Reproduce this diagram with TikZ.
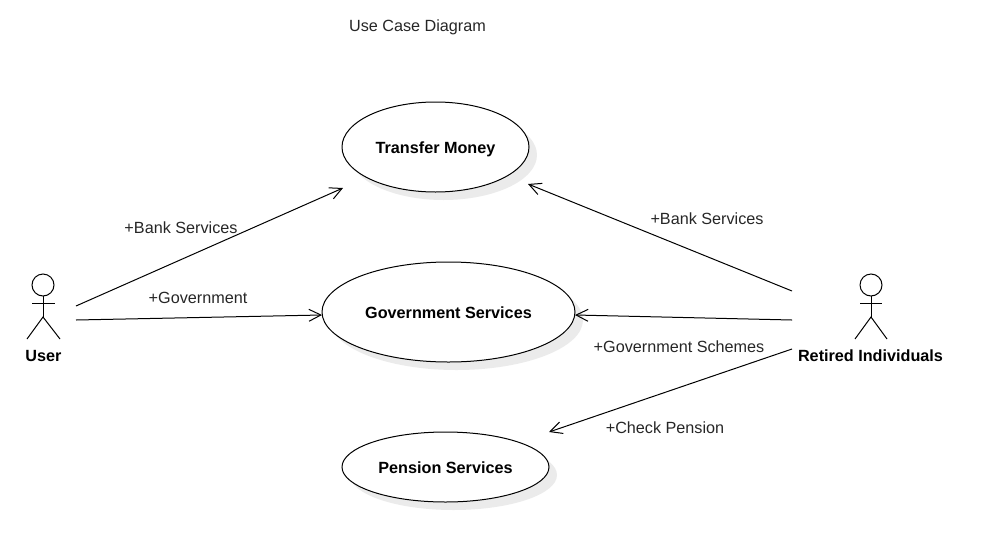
\documentclass[tikz,border=0pt]{standalone}
\usepackage{fontspec}
\setmainfont{Liberation Sans}
\usetikzlibrary{shapes.geometric, arrows.meta, positioning, shadows}

\begin{document}
\begin{tikzpicture}[
  x=1pt, y=-1pt,
  line width=1pt,
  node distance=70pt,
  usecase/.style={ellipse, draw=black, fill=white, inner sep=0pt, outer sep=0pt,
                  font=\fontsize{16.2}{19}\selectfont\bfseries, text height=12.5pt, text depth=0pt,
                  drop shadow={shadow xshift=8pt, shadow yshift=-8pt, fill=black, opacity=0.08}},
  lbl/.style={font=\fontsize{16.2}{19}\selectfont, text=black!85, inner sep=0pt},
  actorlbl/.style={font=\fontsize{16.2}{19}\selectfont\bfseries, inner sep=0pt},
  head/.style={circle, draw=black, minimum size=22pt, inner sep=0pt, outer sep=0pt},
  arr/.style={-{Straight Barb[length=12pt, width=12pt]}},
]
  \useasboundingbox (0,0) rectangle (998,552);

  \node[lbl] (title) at (417.5,27) {Use Case Diagram};

  % use cases
  \node[usecase, minimum width=187pt, minimum height=90pt] (transfer) at (435.5,147) {Transfer Money};
  \node[usecase, minimum width=253pt, minimum height=100pt, below=of transfer, xshift=13pt] (gov) {Government Services};
  \node[usecase, minimum width=207pt, minimum height=70pt, below=of gov, xshift=-3pt] (pension) {Pension Services};

  % actors
  \node[head] (userhead) at (43,285) {};
  \coordinate (userhip) at (43,317);
  \draw (userhead) -- (userhip);
  \draw (32,303) -- (55,303);
  \draw (27,339) -- (userhip) -- (60,339);
  \node[actorlbl] (user) at (43.5,356) {User};

  \node[head] (rethead) at (871,285) {};
  \coordinate (rethip) at (871,317);
  \draw (rethead) -- (rethip);
  \draw (860,303) -- (882,303);
  \draw (855,339) -- (rethip) -- (887,339);
  \node[actorlbl] (retired) at (870.5,356) {Retired Individuals};

  % free ends
  \coordinate (u1) at (76,306);
  \coordinate (u2) at (76,320);
  \coordinate (r1) at (792,291);
  \coordinate (r2) at (792,320);
  \coordinate (r3) at (792,349);
  \coordinate (t1) at (343,188);
  \coordinate (t2) at (528,184);
  \coordinate (g1) at (322,315);
  \coordinate (g2) at (575,315);
  \coordinate (p1) at (549,432);

  \draw[arr] (u1) -- (t1);
  \draw[arr] (u2) -- (g1);
  \draw[arr] (r1) -- (t2);
  \draw[arr] (r2) -- (g2);
  \draw[arr] (r3) -- (p1);

  \node[lbl] (l1) at (181,228) {+Bank Services};
  \node[lbl] (l2) at (198,298) {+Government};
  \node[lbl] (l3) at (707,219) {+Bank Services};
  \node[lbl] (l4) at (679,347) {+Government Schemes};
  \node[lbl] (l5) at (665,428) {+Check Pension};
\end{tikzpicture}
\end{document}
